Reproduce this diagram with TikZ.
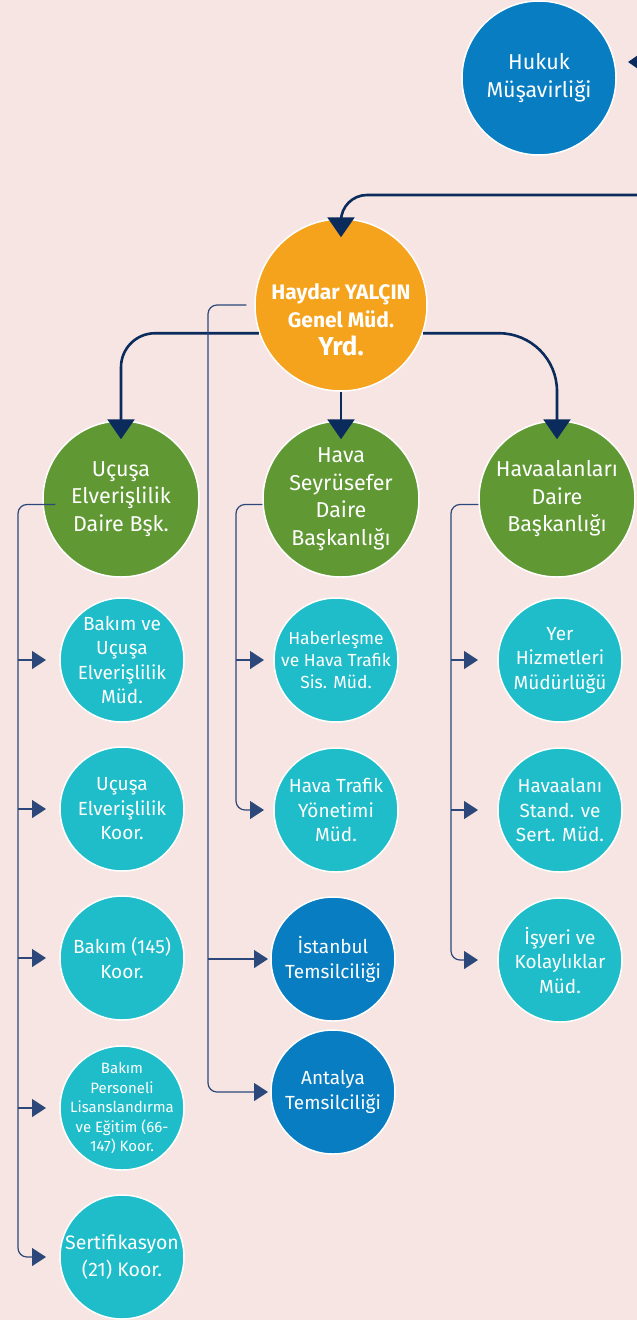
\documentclass[tikz,border=0pt]{standalone}
\usepackage{fontspec}
\setmainfont{Fira Sans}
\usetikzlibrary{arrows.meta}
\usetikzlibrary{positioning}
\usetikzlibrary{calc}
\definecolor{Paper}{RGB}{246,229,226}
\definecolor{Navy}{RGB}{10,43,92}
\definecolor{Rail}{RGB}{44,72,122}
\definecolor{Amber}{RGB}{245,162,28}
\definecolor{Leaf}{RGB}{96,152,52}
\definecolor{Teal}{RGB}{30,189,201}
\definecolor{Sea}{RGB}{8,125,194}
\tikzset{
  % every unit of the chart is a white rimmed disc, text may touch the rim
  orgunit/.style={
    circle,draw=white,line width=1.5pt,text=white,
    align=center,inner sep=-20pt,minimum size=#1,
  },
  chief/.style={orgunit=172pt,fill=Amber,font=\bfseries\fontsize{21}{28}\selectfont},
  office/.style={orgunit=154pt,fill=Sea,font=\fontsize{21.5}{28}\selectfont},
  dept/.style={orgunit=156pt,fill=Leaf,font=\fontsize{21.5}{27.5}\selectfont},
  sub/.style={orgunit=124pt,fill=Teal,font=\fontsize{19}{24.5}\selectfont},
  rep/.style={orgunit=124pt,fill=Sea,font=\fontsize{19}{25}\selectfont},
  % thick links with big heads, thin rails with small heads
  main/.style={Navy,line width=2.6pt,-{Triangle[width=27pt,length=20pt]}},
  feed/.style={Rail,line width=1.2pt,-{Triangle[width=18pt,length=14pt]},rounded corners=9pt},
}
\begin{document}
\begin{tikzpicture}[x=1pt,y=-1pt]
  \useasboundingbox (0,0) rectangle (637,1320);
  \fill[Paper] (0,0) rectangle (637,1320);
  \clip (0,0) rectangle (637,1320);

  % top offices
  \node[office] (hukuk) at (539,78) {Hukuk\\Müşavirliği};
  \node[chief] (gmy) at (341,305)
    {\rule{0pt}{46pt}Haydar YALÇIN\\Genel Müd.\\{\fontsize{26}{32}\selectfont Yrd.}};

  % departments
  \node[dept] (ucus) at (121,499) {Uçuşa\\Elverişlilik\\Daire Bşk.};
  \node[dept] (hava) at (341,499) {Hava\\Seyrüsefer\\Daire\\Başkanlığı};
  \node[dept] (hvl) at (557,499) {Havaalanları\\Daire\\Başkanlığı};

  % first column
  \node[sub] (bakim) at (122,660) {Bakım ve\\Uçuşa\\Elverişlilik\\Müd.};
  \node[sub] (ucusk) at (122,809) {Uçuşa\\Elverişlilik\\Koor.};
  \node[sub] (bakimk) at (122,958) {Bakım (145)\\Koor.};
  \node[sub,font=\fontsize{15}{19.5}\selectfont] (lisans) at (122,1108)
    {Bakım\\Personeli\\Lisanslandırma\\ve Eğitim (66-\\147) Koor.};
  \node[sub,font=\fontsize{19.5}{27}\selectfont] (sert) at (122,1257) {Sertifikasyon\\(21) Koor.};

  % second column
  \node[sub,font=\fontsize{17.5}{22}\selectfont] (haber) at (336,660) {Haberleşme\\ve Hava Trafik\\Sis. Müd.};
  \node[sub] (htyon) at (336,810) {Hava Trafik\\Yönetimi\\Müd.};
  \node[rep] (ist) at (333,959) {İstanbul\\Temsilciliği};
  \node[rep] (ant) at (333,1092) {Antalya\\Temsilciliği};

  % third column
  \node[sub] (yer) at (560,660) {Yer\\Hizmetleri\\Müdürlüğü};
  \node[sub] (stand) at (560,810) {Havaalanı\\Stand. ve\\Sert. Müd.};
  \node[sub] (isyeri) at (560,960) {İşyeri ve\\Kolaylıklar\\Müd.};

  % rails and arrow tips
  \coordinate (railA) at (18,0);   \coordinate (tipA) at (46,0);
  \coordinate (railB) at (236,0);  \coordinate (tipB) at (264,0);
  \coordinate (railC) at (451,0);  \coordinate (tipC) at (478,0);
  \coordinate (railR) at (208,0);  \coordinate (tipR) at (268,0);
  \coordinate (fromright) at (660,62);
  \coordinate (hukin) at (628,62);
  \coordinate (topin) at (637,195);

  % thick links
  \draw[main] (fromright) -- (hukin);
  \draw[main,rounded corners=26pt] (topin) -| ([yshift=-19pt]gmy.north);
  \draw[main,rounded corners=34pt] (gmy.199) -| ([yshift=-19pt]ucus.north);
  \draw[main] (gmy.south) -- ([yshift=-19pt]hava.north);
  \draw[main,rounded corners=58pt] (gmy.341) -| ([yshift=-19pt]hvl.north);

  % thin rails
  \draw[feed] ([xshift=13pt]ucus.184) -| (railA |- sert.west) -- (tipA |- sert.west);
  \foreach \u in {bakim,ucusk,bakimk,lisans}
    \draw[feed] (railA |- \u.west) -- (tipA |- \u.west);

  \draw[feed] (hava.184) -| (railB |- htyon.west) -- (tipB |- htyon.west);
  \draw[feed] (railB |- haber.west) -- (tipB |- haber.west);

  \draw[feed] (hvl.184) -| (railC |- isyeri.west) -- (tipC |- isyeri.west);
  \foreach \u in {yer,stand}
    \draw[feed] (railC |- \u.west) -- (tipC |- \u.west);

  \draw[feed] ([xshift=-8pt]gmy.west) -| (railR |- ant.west) -- (tipR |- ant.west);
  \draw[feed] (railR |- ist.west) -- (tipR |- ist.west);
\end{tikzpicture}
\end{document}
